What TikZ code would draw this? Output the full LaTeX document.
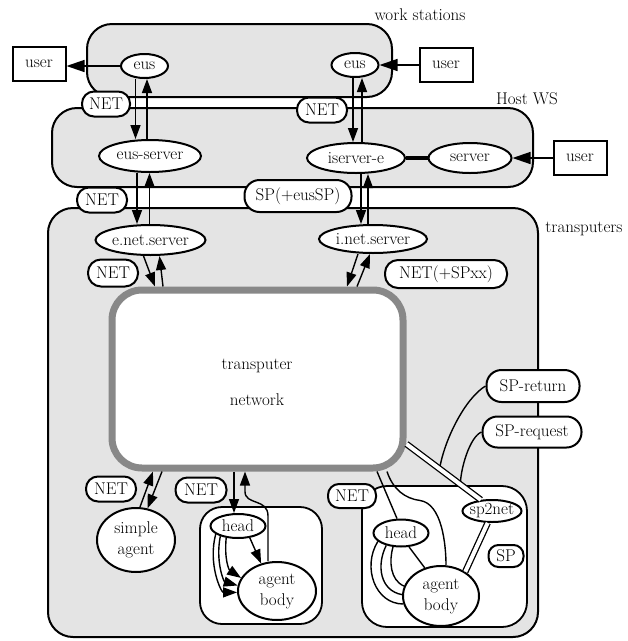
\documentclass[tikz,border=0pt]{standalone}
\usetikzlibrary{arrows.meta,shapes.geometric,calc}
\definecolor{boxgray}{HTML}{E4E4E4}
\definecolor{netgray}{HTML}{888888}
\begin{document}
\begin{tikzpicture}[x=1pt,y=-1pt,
  every node/.style={font=\fontsize{17}{21}\selectfont},
  region/.style={draw, line width=2pt, fill=boxgray, rounded corners=25pt, inner sep=0pt},
  inbox/.style={draw, line width=1.8pt, fill=white, rounded corners=22pt, inner sep=0pt},
  tag/.style={draw, line width=2pt, fill=white, rounded corners=12pt, inner sep=0pt, minimum height=25pt},
  oval/.style={ellipse, draw, line width=2pt, fill=white, inner sep=0pt},
  userbox/.style={draw, line width=2pt, fill=white, minimum width=53pt, minimum height=34pt, inner sep=0pt},
  conn/.style={line width=1.4pt},
  arr/.style={conn, -{Triangle[length=14pt,width=10pt]}},
  bigarr/.style={conn, -{Triangle[length=18pt,width=12pt]}},
  dbl/.style={double, double distance=4pt, line width=1.3pt}]

\path[use as bounding box] (0,0) rectangle (628,641);

% regions
\node[region, minimum width=305pt, minimum height=73pt] (ws) at (239.5,60.5) {};
\node[region, minimum width=481pt, minimum height=79pt] (host) at (292.5,147.5) {};
\node[region, minimum width=490pt, minimum height=429pt] (tr) at (293,422.5) {};
\node[draw=netgray, line width=7pt, fill=white, rounded corners=30pt, minimum width=291pt, minimum height=178pt, inner sep=0pt] (net) at (257.5,379) {};
\node (tn1) at (257,366) {transputer};
\node (tn2) at (257,400) {network};
\node[inbox, minimum width=122pt, minimum height=117pt] (mbox) at (261,565.5) {};
\node[inbox, rounded corners=25pt, minimum width=165pt, minimum height=141pt] (rbox) at (444.5,556.5) {};

% region labels
\node (lws) at (420,15) {work stations};
\node (lhost) at (527,99) {Host WS};
\node (ltr) at (584,229) {transputers};

% tags
\node[tag, minimum width=48pt] (net1) at (106,104) {NET};
\node[tag, minimum width=50pt] (net2) at (322,110) {NET};
\node[tag, minimum width=50pt] (net3) at (102,200) {NET};
\node[tag, minimum width=107pt, minimum height=32pt, rounded corners=15pt] (spe) at (298,196) {SP(+eusSP)};
\node[tag, minimum width=50pt, minimum height=27pt, rounded corners=13pt] (net4) at (113,273) {NET};
\node[tag, minimum width=122pt, minimum height=28pt, rounded corners=13pt] (netsp) at (446,274) {NET(+SPxx)};
\node[tag, minimum width=93pt, minimum height=32pt, rounded corners=15pt] (spret) at (533,386) {SP-return};
\node[tag, minimum width=99pt, minimum height=31pt, rounded corners=15pt] (spreq) at (532,432) {SP-request};
\node[tag, minimum width=50pt] (net5) at (111,489) {NET};
\node[tag, minimum width=51pt] (net6) at (201,490) {NET};
\node[tag, minimum width=48pt, minimum height=24pt, rounded corners=11pt] (net7) at (352,496) {NET};
\node[tag, minimum width=35pt, minimum height=22pt, rounded corners=10pt] (sp) at (506,556) {SP};

% ellipses
\node[oval, minimum width=47pt, minimum height=24pt, label=center:eus] (eusL) at (144.5,66) {};
\node[oval, minimum width=47pt, minimum height=24pt, label=center:eus] (eusR) at (355,65) {};
\node[oval, minimum width=102pt, minimum height=32pt, label=center:eus-server] (eusSrv) at (150,156) {};
\node[oval, minimum width=98pt, minimum height=30pt, label=center:iserver-e] (iserv) at (356,158) {};
\node[oval, minimum width=83pt, minimum height=30pt, label=center:server] (server) at (470,158) {};
\node[oval, minimum width=110pt, minimum height=30pt, label=center:e.net.server] (enet) at (150.5,240) {};
\node[oval, minimum width=108pt, minimum height=28pt, label=center:i.net.server] (inet) at (373,239) {};
\node[oval, minimum width=78pt, minimum height=64pt, label={[align=center]center:simple\\agent}] (simple) at (136,540) {};
\node[oval, minimum width=55pt, minimum height=24pt, label=center:head] (headM) at (238,526) {};
\node[oval, minimum width=78pt, minimum height=58pt, label={[align=center]center:agent\\body}] (bodyM) at (277,591) {};
\node[oval, minimum width=55pt, minimum height=27pt, label=center:head] (headR) at (401,533) {};
\node[oval, minimum width=59pt, minimum height=22pt, label=center:sp2net] (sp2net) at (492,511) {};
\node[oval, minimum width=76pt, minimum height=60pt, label={[align=center]center:agent\\body}] (bodyR) at (441,596) {};

% users
\node[userbox] (userL) at (39,64) {user};
\node[userbox] (userR) at (446,65) {user};
\node[userbox] (userH) at (580,158) {user};

% user links
\draw[bigarr] (eusL.west) -- (eusL.west -| userL.east);
\draw[bigarr] (userR.west) -- (userR.west -| eusR.east);
\draw[bigarr] (userH.west) -- (userH.west -| server.east);
\draw[line width=4pt] (iserv.east) -- (server.west);

% left column
\draw[arr] ([xshift=-9pt]eusL.south) -- ([xshift=-9pt]eusL.south |- eusSrv.north);
\draw[arr] ([xshift=-3pt]eusSrv.north) -- ([xshift=-3pt]eusSrv.north |- eusL.south);
\draw[arr] ([xshift=-13pt]eusSrv.south) -- ([xshift=-13pt]eusSrv.south |- enet.north);
\draw[arr] ([xshift=-1pt]enet.north) -- ([xshift=-1pt]enet.north |- eusSrv.south);
\draw[arr] ([xshift=-7pt]enet.south) -- ([xshift=-102.5pt]net.north);
\draw[arr] ([xshift=-94.5pt]net.north) -- ([xshift=9pt]enet.south);

% right column
\draw[arr] ([xshift=-2pt]eusR.south) -- ([xshift=-2pt]eusR.south |- iserv.north);
\draw[arr] ([xshift=6pt]iserv.north) -- ([xshift=6pt]iserv.north |- eusR.south);
\draw[arr] ([xshift=5pt]iserv.south) -- ([xshift=5pt]iserv.south |- inet.north);
\draw[arr] ([xshift=-5pt]inet.north) -- ([xshift=-5pt]inet.north |- iserv.south);
\draw[arr] ([xshift=-15pt]inet.south) -- ([xshift=89.5pt]net.north);
\draw[arr] ([xshift=99.5pt]net.north) -- ([xshift=-3pt]inet.south);

% simple agent
\draw[arr] ([xshift=4pt]simple.north) -- ([xshift=-104.5pt]net.south);
\draw[arr] ([xshift=-95.5pt]net.south) -- (simple.70);

% middle agent
\draw[arr] ([xshift=-23.5pt]net.south) -- ([xshift=-23.5pt]net.south |- headM.north);
\coordinate (m1) at ($(net.south)+(-12.5,20)$);
\draw[arr] ([xshift=-9pt]bodyM.north) -- ++(0,-45) .. controls +(0,-18) and +(0,14) .. (m1) -- (m1 |- net.south);
\draw[arr] (headM.-45) -- (bodyM.120);
\draw[arr] (headM.-135) .. controls +(-2,22) and +(-12,-8) .. (bodyM.160);
\draw[arr] (headM.-150) .. controls +(-5,25) and +(-14,-4) .. (bodyM.172);
\draw[arr] (headM.-160) .. controls +(-8,30) and +(-16,0) .. (bodyM.182);

% right agent
\draw[conn] ([xshift=119.5pt]net.south) -- ([xshift=-4pt]headR.north);
\coordinate (r1) at ($(net.south)+(162.5,29)$);
\draw[conn] ([xshift=129.5pt]net.south) .. controls +(6,18) and +(-15,-2) .. (r1) .. controls +(22,3) and +(0,-20) .. ([xshift=5pt]bodyR.north);
\coordinate (d1) at ($(net.east)+(0,65)$);
\coordinate (j1) at ($(d1)!0.445!(sp2net.135)$);
\coordinate (j2) at ($(d1)!0.725!(sp2net.135)$);
\draw[conn] (spret.west) .. controls +(-20,12) and +(5,-30) .. (j1);
\draw[conn] (spreq.west) .. controls +(-12,5) and +(0,-15) .. (j2);
\draw[dbl] (d1) -- (sp2net.135);
\draw[dbl] (sp2net.-110) -- (bodyR.45);
\draw[conn] (headR.-60) -- (bodyR.120);
\draw[conn] (headR.-120) .. controls +(-4,14) and +(-14,-6) .. (bodyR.165);
\draw[conn] (headR.-140) .. controls +(-10,20) and +(-22,-4) .. (bodyR.178);
\draw[conn] (headR.-160) .. controls +(-16,26) and +(-28,0) .. (bodyR.192);
\end{tikzpicture}
\end{document}
